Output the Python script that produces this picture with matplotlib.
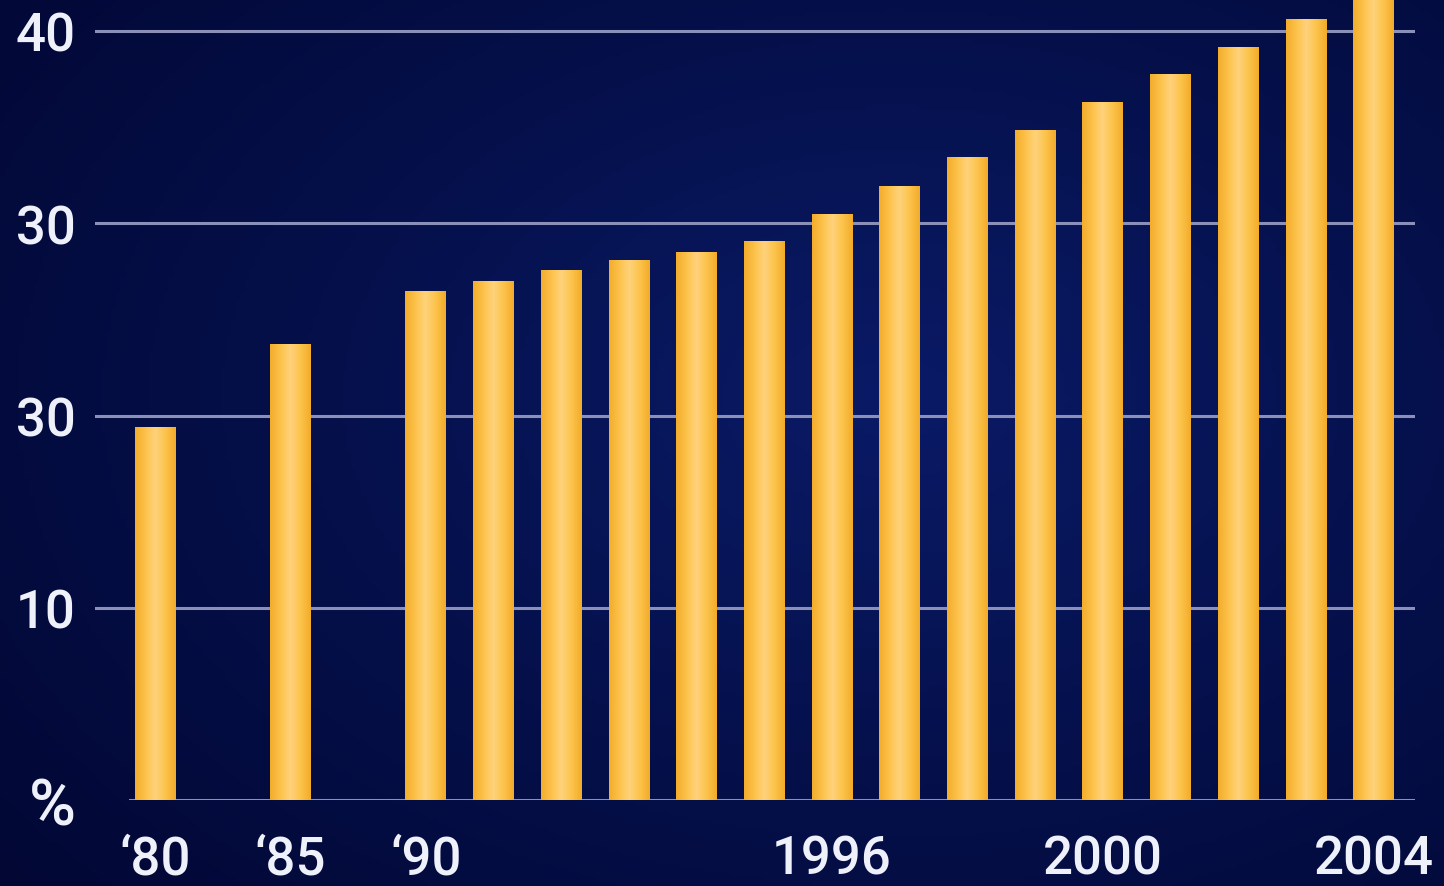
import numpy as np
import matplotlib.pyplot as plt
from matplotlib.colors import LinearSegmentedColormap

# --- DATOS ---
years = ['1980', '1985', '1990', '1991', '1992', '1993', '1994', '1995', '1996',
         '1997', '1998', '1999', '2000', '2001', '2002', '2003', '2004']
values = [19.4, 23.7, 26.5, 27.0, 27.55, 28.1, 28.5, 29.1, 30.5,
          31.95, 33.45, 34.85, 36.3, 37.75, 39.15, 40.6, 42.0]
ytick_vals = [0, 10, 20, 30, 40]
ytick_labels = ['%', '10', '30', '30', '40']
xtick_years = ['1980', '1985', '1990', '1996', '2000', '2004']
xtick_labels = ['\u201880', '\u201885', '\u201890', '1996', '2000', '2004']

# 1980 y 1985 ocupan dos huecos cada uno
slots = [i * 2 if i < 3 else i + 2 for i in range(len(years))]

FONT = ['Roboto', 'DejaVu Sans']
TXT = '#eef0fa'

fig = plt.figure(figsize=(14.44, 8.87), dpi=100)

# fondo azul con degradado
bg = fig.add_axes([0, 0, 1, 1], zorder=0)
gx, gy = np.meshgrid(np.linspace(0, 1, 300), np.linspace(0, 1, 200))
d = np.sqrt(((gx - 0.62) / 0.75) ** 2 + ((gy - 0.45) / 0.8) ** 2)
bg_cmap = LinearSegmentedColormap.from_list('bg', ['#0a1a66', '#05104a', '#020733'])
bg.imshow(d, cmap=bg_cmap, aspect='auto', extent=[0, 1, 0, 1], vmin=0, vmax=1.1)
bg.set_axis_off()

ax = fig.add_axes([95 / 1444, 1 - 801 / 887, 1320 / 1444, 801 / 887], zorder=1)
ax.patch.set_alpha(0)

left = 155 - 95
slot_px = 67.7

# lineas de cuadricula
for v in ytick_vals[1:]:
    ax.axhline(v, color='#8a90b8', lw=2.2, zorder=1)
ax.axhline(0, xmin=35 / 1320, color='#8a90b8', lw=2.2, zorder=1)

bars = ax.bar(slots, values, width=0.6, color='#f9b93c', zorder=2)

bar_cmap = LinearSegmentedColormap.from_list(
    'bar', ['#f3ad2c', '#fcc24a', '#ffd27c', '#fcc44c', '#f2ac2a'])
grad = np.linspace(0, 1, 64).reshape(1, -1)
for b in bars:
    x0, w, h = b.get_x(), b.get_width(), b.get_height()
    im = ax.imshow(grad, cmap=bar_cmap, aspect='auto',
                   extent=[x0, x0 + w, 0, h], zorder=3)
    im.set_clip_path(b)

ax.set_xlim(-left / slot_px, (1415 - 155) / slot_px)
ax.set_ylim(0, 801 / 19.225)

ax.set_yticks(ytick_vals)
ax.set_yticklabels(ytick_labels, family=FONT, fontsize=38, weight='medium', color=TXT)
ax.get_yticklabels()[0].set_fontsize(46)
ax.set_xticks([slots[years.index(y)] for y in xtick_years])
ax.set_xticklabels(xtick_labels, family=FONT, fontsize=38, weight='medium', color=TXT)
ax.tick_params(length=0)
ax.tick_params(axis='y', pad=14)
ax.tick_params(axis='x', pad=24)
for s in ax.spines.values():
    s.set_visible(False)

fig.savefig('out.png', dpi=100)
